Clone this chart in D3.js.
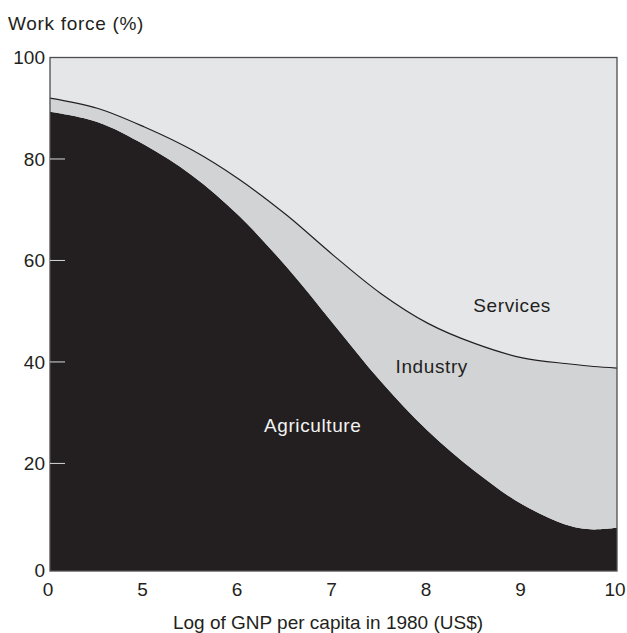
<!DOCTYPE html>
<meta charset="utf-8">
<head>
  <script src="https://d3js.org/d3.v7.min.js"></script>
  <style>
    body { margin: 0; background: #fff; font-family: "Liberation Sans", Arial, sans-serif; }
    text { fill: #231f20; }
  </style>
</head>
<body>
<svg></svg>
<script>
  // data (x axis is broken between 0 and 5)
  var gnpLog      = [0, 2.5, 5, 5.5, 6, 6.5, 7, 7.5, 8, 8.5, 9, 9.5, 9.75, 10];
  var agriculture = [89.3, 87.3, 82.8, 76.8, 68.8, 58.8, 47.5, 36.2, 26.4, 18.4, 11.9, 7.7, 7.0, 7.3];
  var industry    = [2.7, 2.7, 3.5, 5.0, 7.2, 10.2, 13.5, 17.3, 21.2, 25.2, 28.9, 31.9, 32.1, 31.5];
  var services    = [8.0, 10.0, 13.7, 18.2, 24.0, 31.0, 39.0, 46.5, 52.4, 56.4, 59.2, 60.4, 60.9, 61.2];
  var xTicks = [0, 5, 6, 7, 8, 9, 10];
  var yTicks = [0, 20, 40, 60, 80, 100];
  var labels = [
    {name: "Services", x: 8.89, y: 51.2, color: "#231f20"},
    {name: "Industry", x: 8.04, y: 39.2, color: "#231f20"},
    {name: "Agriculture", x: 6.78, y: 27.6, color: "#f2f2f2"}
  ];

  var width = 627, height = 633;
  var plotL = 50, plotR = 617, plotT = 57.5, plotB = 571;

  var svg = d3.select("svg").attr("width", width).attr("height", height);

  var rows = gnpLog.map(function (x, i) {
    return {x: x, agriculture: agriculture[i], industry: industry[i], services: services[i]};
  });

  var x = d3.scaleLinear()
    .domain([0, 5, 10])
    .range([plotL, plotL + (plotR - plotL) / 6, plotR]);
  var y = d3.scaleLinear()
    .domain([-1.2, 100])
    .range([plotB, plotT]);

  var stack = d3.stack().keys(["agriculture", "industry", "services"]);
  var series = stack(rows);
  var fills = {agriculture: "#231f20", industry: "#d2d3d5", services: "#e5e6e8"};
  var curve = d3.curveCatmullRom.alpha(0.5);

  // background = services colour, covers the whole frame
  svg.append("rect")
    .attr("x", plotL).attr("y", plotT)
    .attr("width", plotR - plotL).attr("height", plotB - plotT)
    .attr("fill", fills.services);

  var area = d3.area()
    .curve(curve)
    .x(function (d) { return x(d.data.x); })
    .y0(function (d) { return d[0] === 0 ? plotB : y(d[0]); })
    .y1(function (d) { return y(d[1]); });

  svg.selectAll(".layer")
    .data(series.slice(0, 2))
    .enter().append("path")
    .attr("class", "layer")
    .attr("d", area)
    .attr("fill", function (d) { return fills[d.key]; });

  // thin line between industry and services
  var line = d3.line()
    .curve(curve)
    .x(function (d) { return x(d.data.x); })
    .y(function (d) { return y(d[1]); });
  svg.append("path")
    .attr("d", line(series[1]))
    .attr("fill", "none")
    .attr("stroke", "#231f20")
    .attr("stroke-width", 1.2);

  // frame
  svg.append("rect")
    .attr("x", plotL).attr("y", plotT)
    .attr("width", plotR - plotL).attr("height", plotB - plotT)
    .attr("fill", "none")
    .attr("stroke", "#4d4d4d")
    .attr("stroke-width", 1.3);

  // y ticks (small light marks inside)
  svg.selectAll(".ytick")
    .data(yTicks.filter(function (d) { return d > 0 && d < 100; }))
    .enter().append("line")
    .attr("x1", plotL).attr("x2", plotL + 15)
    .attr("y1", function (d) { return y(d); })
    .attr("y2", function (d) { return y(d); })
    .attr("stroke", "#d8d8d8")
    .attr("stroke-width", 1);

  svg.selectAll(".ylab")
    .data(yTicks)
    .enter().append("text")
    .attr("x", plotL - 5)
    .attr("y", function (d) { return d === 0 ? plotB - 1 : y(d); })
    .attr("dy", "0.36em")
    .attr("text-anchor", "end")
    .style("font-size", "19px")
    .text(function (d) { return d; });

  svg.selectAll(".xlab")
    .data(xTicks)
    .enter().append("text")
    .attr("x", function (d) { return x(d) - 2; })
    .attr("y", 596)
    .attr("text-anchor", "middle")
    .style("font-size", "19px")
    .text(function (d) { return d; });

  svg.append("text")
    .attr("x", 8).attr("y", 30)
    .style("font-size", "19px")
    .style("letter-spacing", "0.7px")
    .text("Work force (%)");

  svg.append("text")
    .attr("x", 328).attr("y", 629)
    .attr("text-anchor", "middle")
    .style("font-size", "19px")
    .text("Log of GNP per capita in 1980 (US$)");

  svg.selectAll(".lab")
    .data(labels)
    .enter().append("text")
    .attr("x", function (d) { return x(d.x); })
    .attr("y", function (d) { return y(d.y); })
    .attr("dy", "0.36em")
    .attr("text-anchor", "middle")
    .style("font-size", "19px")
    .style("letter-spacing", "0.6px")
    .style("fill", function (d) { return d.color; })
    .text(function (d) { return d.name; });
</script>
</body>
</html>
